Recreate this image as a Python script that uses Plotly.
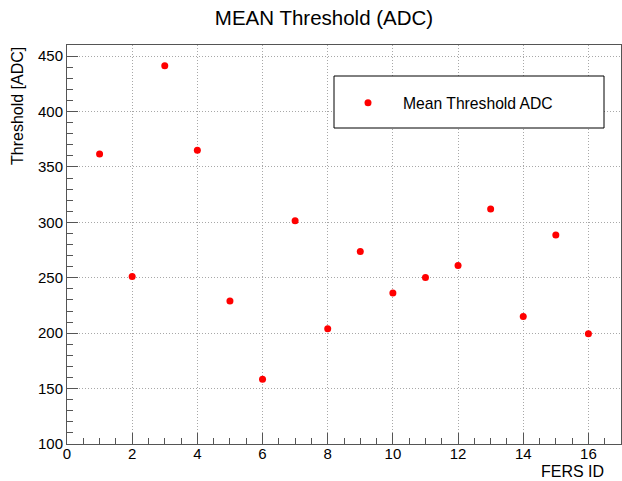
import plotly.graph_objects as go

fers_id = [1, 2, 3, 4, 5, 6, 7, 8, 9, 10, 11, 12, 13, 14, 15, 16]
mean_threshold = [361.7, 251.2, 441.3, 365.0, 229.0, 158.4, 301.4, 203.9,
                  273.7, 236.2, 250.3, 261.1, 312.0, 215.0, 288.6, 199.5]

W, H = 622, 481
L, R, T, B = 67, 1, 45, 37
pw, ph = W - L - R, H - T - B

def px_x(x):
    return (x - L) / pw

def px_y(y):
    return (H - B - y) / ph

font_family = "Liberation Sans, Arial, Helvetica, sans-serif"
frame_col = "#555555"

fig = go.Figure()
fig.add_trace(go.Scatter(
    x=fers_id, y=mean_threshold, mode="markers",
    name="Mean Threshold ADC",
    marker=dict(color="#ff0000", size=7, line=dict(width=0)),
))

axis_common = dict(
    showline=True, mirror=True, linecolor=frame_col, linewidth=1,
    ticks="inside", ticklen=11, tickcolor=frame_col, tickwidth=1,
    showgrid=True, gridcolor="#a8a8a8", griddash="1px,2px", gridwidth=1,
    zeroline=False,
    tickfont=dict(family=font_family, size=15, color="black"),
)

fig.update_xaxes(
    range=[0, 17], tick0=0, dtick=2, ticklabelstandoff=-4,
    minor=dict(dtick=0.5, ticks="inside", ticklen=6, tickcolor=frame_col, showgrid=False),
    **axis_common,
)
fig.update_yaxes(
    range=[100, 460], tick0=100, dtick=50,
    minor=dict(dtick=10, ticks="inside", ticklen=6, tickcolor=frame_col, showgrid=False),
    **axis_common,
)

# legend box
fig.add_shape(type="rect", xref="paper", yref="paper",
              x0=px_x(334), x1=px_x(604), y0=px_y(128), y1=px_y(76),
              line=dict(color="black", width=1), fillcolor="white", layer="above")

fig.update_layout(
    width=W, height=H,
    margin=dict(l=L, r=R, t=T, b=B, pad=0),
    paper_bgcolor="white", plot_bgcolor="white",
    title=dict(text="MEAN Threshold (ADC)", x=324 / W, xanchor="center",
               y=1 - 18 / H, yanchor="middle",
               font=dict(family=font_family, size=20.5, color="black")),
    showlegend=True,
    legend=dict(x=px_x(333), y=px_y(103), xanchor="left", yanchor="middle",
                bgcolor="rgba(0,0,0,0)", borderwidth=0, itemwidth=60,
                font=dict(family=font_family, size=15.7, color="black")),
    annotations=[
        dict(text="Threshold [ADC]", xref="paper", yref="paper",
             x=px_x(17), y=1, xanchor="center", yanchor="top", textangle=-90,
             showarrow=False, font=dict(family=font_family, size=16, color="black")),
        dict(text="FERS ID", xref="paper", yref="paper",
             x=px_x(606), y=px_y(471), xanchor="right", yanchor="middle",
             showarrow=False, font=dict(family=font_family, size=16, color="black")),
    ],
)

fig.write_html("out.html")
